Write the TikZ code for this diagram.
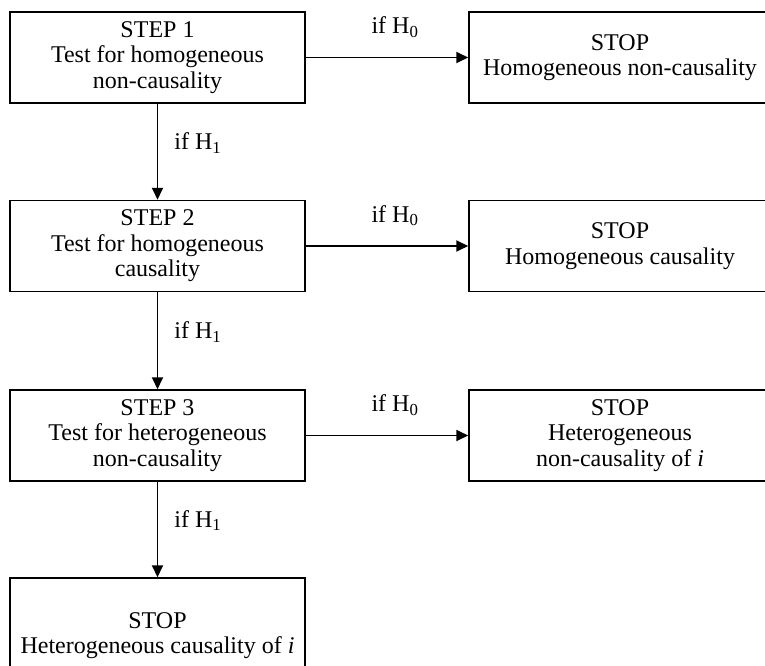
\documentclass[tikz,border=0pt]{standalone}
\usepackage{fontspec}
\setmainfont{Liberation Serif}
\usetikzlibrary{arrows.meta}
\tikzset{
  box/.style={draw=black, line width=1.5pt, align=center, minimum height=91pt,
    font=\fontsize{24}{25.5}\selectfont, inner sep=2pt},
  leftbox/.style={box, minimum width=295pt},
  stopbox/.style={box, minimum width=302pt},
  arr/.style={line width=1.8pt, -{Triangle[length=12pt,width=11pt]}},
  lbl/.style={font=\fontsize{24}{25.5}\selectfont, inner sep=2pt}
}
\begin{document}
\begin{tikzpicture}[x=1pt,y=-1pt]
\useasboundingbox (0,0) rectangle (765,666);
\clip (0,0) rectangle (765,666);
\node[leftbox] (s1) at (157.5,57.5) {STEP 1\\Test for homogeneous\\non-causality};
\node[leftbox] (s2) at (157.5,246) {STEP 2\\Test for homogeneous\\causality};
\node[leftbox] (s3) at (157.5,435.5) {STEP 3\\Test for heterogeneous\\non-causality};
\node[leftbox, minimum height=115pt] (s4) at (157.5,635.5) {STOP\\Heterogeneous causality of \textit{i}};
\node[stopbox] (t1) at (620,57.5) {STOP\\Homogeneous non-causality};
\node[stopbox] (t2) at (620,246) {STOP\\Homogeneous causality};
\node[stopbox] (t3) at (620,435.5) {STOP\\Heterogeneous\\non-causality of \textit{i}};
\draw[arr] (s1.east) -- (t1.west) node[lbl, midway, above=17pt, xshift=8pt] {if H\textsubscript{0}};
\draw[arr] (s2.east) -- (t2.west) node[lbl, midway, above=17pt, xshift=8pt] {if H\textsubscript{0}};
\draw[arr] (s3.east) -- (t3.west) node[lbl, midway, above=17pt, xshift=8pt] {if H\textsubscript{0}};
\draw[arr] (s1.south) -- (s2.north) node[lbl, midway, right=14pt, yshift=9pt] {if H\textsubscript{1}};
\draw[arr] (s2.south) -- (s3.north) node[lbl, midway, right=14pt, yshift=9pt] {if H\textsubscript{1}};
\draw[arr] (s3.south) -- (s4.north) node[lbl, midway, right=14pt, yshift=9pt] {if H\textsubscript{1}};
\end{tikzpicture}
\end{document}
